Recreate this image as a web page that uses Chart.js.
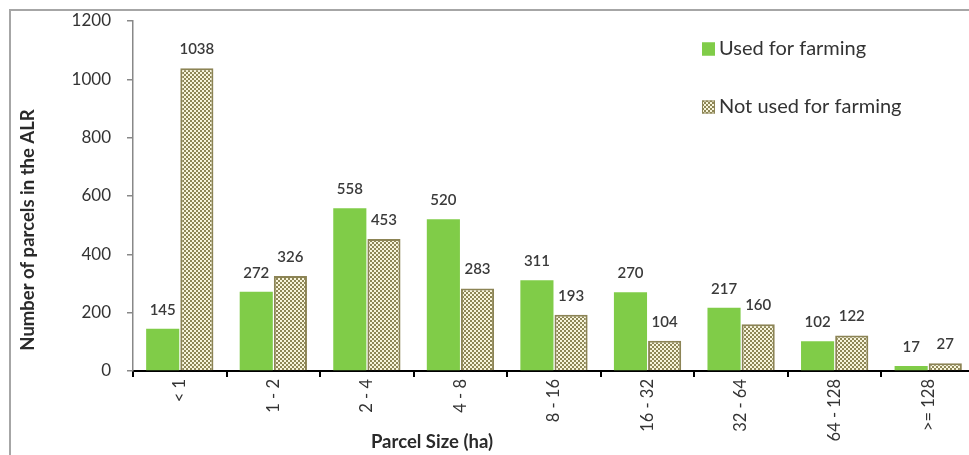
<!DOCTYPE html>
<html>
<head>
<meta charset="utf-8">
<script src="https://cdn.jsdelivr.net/npm/chart.js@4/dist/chart.umd.min.js"></script>
<style>
  html, body { margin: 0; padding: 0; background: #fff; overflow: hidden; width: 969px; height: 455px; }
  #wrap { position: absolute; left: 0; top: 0; width: 1000px; height: 455px; }
  #frame { position: absolute; left: 9px; top: 9px; width: 1100px; height: 600px; border-left: 2px solid #a6a6a6; border-top: 2px solid #a6a6a6; pointer-events: none; }
</style>
</head>
<body>
<div id="wrap"><canvas id="c" width="1000" height="455"></canvas></div>
<div id="frame"></div>
<script>
const categories = ['< 1', '1 - 2', '2 - 4', '4 - 8', '8 - 16', '16 - 32', '32 - 64', '64 - 128', '>= 128'];
const usedForFarming = [145, 272, 558, 520, 311, 270, 217, 102, 17];
const notUsedForFarming = [1038, 326, 453, 283, 193, 104, 160, 122, 27];
const seriesNames = ['Used for farming', 'Not used for farming'];
const yTicks = [0, 200, 400, 600, 800, 1000, 1200];
const yTitle = 'Number of parcels in the ALR';
const xTitle = 'Parcel Size (ha)';

const FONT = 'Lato, "Open Sans", sans-serif';
const GREEN = '#80cc48';
const OLIVE = '#8c8455';

function makePattern() {
  const p = document.createElement('canvas');
  p.width = 4; p.height = 4;
  const g = p.getContext('2d');
  g.fillStyle = '#8e8757';
  g.fillRect(0, 0, 4, 4);
  g.fillStyle = '#f8f5dc';
  g.fillRect(0, 0, 2, 2);
  g.fillRect(2, 2, 2, 2);
  return document.getElementById('c').getContext('2d').createPattern(p, 'repeat');
}
const hatch = makePattern();

const extrasPlugin = {
  id: 'extras',
  afterDatasetsDraw(chart) {
    const ctx = chart.ctx;
    ctx.save();
    // value labels
    ctx.font = '600 15px ' + FONT;
    ctx.fillStyle = '#3a3a3a';
    ctx.textAlign = 'center';
    ctx.textBaseline = 'middle';
    chart.data.datasets.forEach((ds, i) => {
      const meta = chart.getDatasetMeta(i);
      meta.data.forEach((el, j) => {
        ctx.fillText(String(ds.data[j]), el.x, el.y - 19);
      });
    });
    // y title
    ctx.font = 'bold 18.5px ' + FONT;
    ctx.fillStyle = '#2a2a2a';
    ctx.save();
    ctx.translate(28, 230);
    ctx.rotate(-Math.PI / 2);
    ctx.fillText(yTitle, 0, 0);
    ctx.restore();
    // x title
    ctx.fillText(xTitle, 432, 442);
    // legend
    const items = [
      { label: seriesNames[0], fill: GREEN, border: GREEN, y: 49 },
      { label: seriesNames[1], fill: hatch, border: OLIVE, y: 107 }
    ];
    ctx.font = '20px ' + FONT;
    ctx.textAlign = 'left';
    items.forEach(it => {
      ctx.fillStyle = it.fill;
      ctx.fillRect(702, it.y - 6.5, 13, 13);
      ctx.strokeStyle = it.border;
      ctx.lineWidth = 1;
      ctx.strokeRect(702.5, it.y - 6, 12, 12);
      ctx.fillStyle = '#333';
      ctx.fillText(it.label, 719, it.y);
    });
    ctx.restore();
  }
};

new Chart(document.getElementById('c'), {
  type: 'bar',
  data: {
    labels: categories,
    datasets: [
      { label: seriesNames[0], data: usedForFarming, backgroundColor: GREEN, borderWidth: 0 },
      { label: seriesNames[1], data: notUsedForFarming, backgroundColor: hatch, borderColor: OLIVE, borderWidth: 2 }
    ]
  },
  options: {
    responsive: false,
    animation: false,
    devicePixelRatio: 1,
    layout: { padding: { top: 21, right: 25, left: 0, bottom: 0 } },
    datasets: { bar: { categoryPercentage: 0.73, barPercentage: 0.97 } },
    plugins: { legend: { display: false }, tooltip: { enabled: false } },
    scales: {
      x: {
        grid: { drawOnChartArea: false, drawTicks: true, tickLength: 6, color: '#000', lineWidth: 2, offset: true },
        border: { color: '#000', width: 2 },
        ticks: { minRotation: 90, maxRotation: 90, padding: 2, color: '#333', font: { family: FONT, size: 16.5 } },
        afterFit(s) { s.height = 84; s.paddingLeft = 0; s.paddingRight = 0; }
      },
      y: {
        min: 0, max: 1200,
        afterBuildTicks(s) { s.ticks = yTicks.map(v => ({ value: v })); },
        grid: { drawOnChartArea: false, drawTicks: true, tickLength: 6, color: '#888', lineWidth: 1.5 },
        border: { color: '#888', width: 1.5 },
        ticks: { padding: 16, color: '#333', font: { family: FONT, size: 17 }, callback: v => String(v) },
        afterFit(s) { s.width = 133; s.paddingTop = 0; s.paddingBottom = 0; }
      }
    }
  },
  plugins: [extrasPlugin]
});
</script>
</body>
</html>
